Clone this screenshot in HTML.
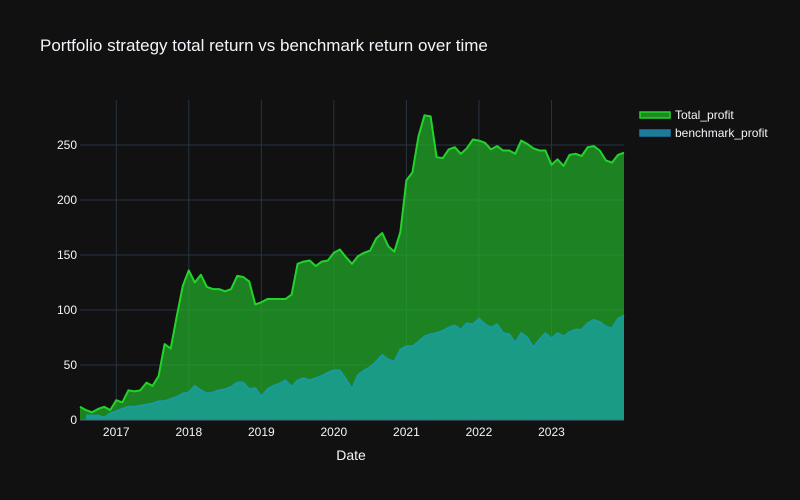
<!DOCTYPE html>
<html><head><meta charset="utf-8"><style>
html,body{margin:0;padding:0;background:#111111;}
svg{display:block;font-family:"Liberation Sans",sans-serif;}
</style></head><body>
<svg id="chart" width="800" height="500" viewBox="0 0 800 500">
<rect width="800" height="500" fill="#111111"/>
<text x="40" y="51" fill="#f2f5fa" font-size="17">Portfolio strategy total return vs benchmark return over time</text>
<g id="grid"></g>
<g id="areas"></g>
<g id="axes"></g>
<text x="351" y="460" fill="#f2f5fa" font-size="14" text-anchor="middle">Date</text>
<g>
<g>
<rect x="640" y="112" width="30" height="6" fill="#1f8a24" stroke="#22d42a" stroke-width="1.5"/>
<text x="675" y="119" fill="#f2f5fa" font-size="12">Total_profit</text></g>
<g>
<rect x="640" y="130" width="30" height="6" fill="#1a7e8e" stroke="#1f77b4" stroke-width="1.5"/>
<text x="675" y="137" fill="#f2f5fa" font-size="12">benchmark_profit</text></g>
</g>
</svg>
<script>
const startYear = 2016.5;
const monthStep = 1/12;
const totalProfit = [12,9,7,10,12,9,18,16,27,26,27,34,31,40,69,65,94,122,136,125,132,121,119,119,117,119,131,130,126,105,107,110,110,110,110,114,142,144,145,140,144,145,152,155,148,142,149,152,154,165,170,158,153,171,218,225,258,277,276,239,238,246,248,242,247,255,254,252,246,249,245,245,242,254,251,247,245,245,232,237,231,241,242,240,248,249,245,236,234,241,243];
const benchmarkProfit = [null,4,4,4,2,6,8,10,12,12,13,14,15,17,17,19,21,24,25,31,27,24,25,27,28,30,34,34,28,29,21,28,31,33,36,30,36,38,36,38,40,43,45,45,37,28,41,45,48,53,59,55,53,64,67,67,71,76,78,79,81,84,86,82,88,87,92,87,84,87,79,78,70,79,75,66,73,79,74,79,76,80,82,82,88,91,89,85,83,92,95];
const yTicks = [0,50,100,150,200,250];
const xTicks = [2017,2018,2019,2020,2021,2022,2023];

const NS="http://www.w3.org/2000/svg";
const X0=80,X1=624,Y0=420,YTOP=100;
const xMin=startYear, xMax=startYear+(totalProfit.length-1)*monthStep;
const xs=v=>X0+(v-xMin)/(xMax-xMin)*(X1-X0);
const ys=v=>Y0-v*1.1;
function mk(tag,attrs,parent){const e=document.createElementNS(NS,tag);for(const k in attrs)e.setAttribute(k,attrs[k]);parent.appendChild(e);return e;}
const grid=document.getElementById('grid'),areas=document.getElementById('areas'),axes=document.getElementById('axes');
yTicks.forEach(t=>{
 if(t>0){const l=mk('line',{x1:X0,x2:X1,y1:ys(t),y2:ys(t),stroke:'#283442','stroke-width':1},grid);
 
 }
 const tx=mk('text',{x:X0-3,y:ys(t)+4,fill:'#f2f5fa','font-size':12,'text-anchor':'end'},axes);
 tx.textContent=t;
 
 
});
xTicks.forEach(t=>{
 const l=mk('line',{x1:xs(t),x2:xs(t),y1:YTOP,y2:Y0,stroke:'#283442','stroke-width':1},grid);
 
 
 const tx=mk('text',{x:xs(t),y:Y0+16,fill:'#f2f5fa','font-size':12,'text-anchor':'middle'},axes);
 tx.textContent=t;
 
 
});
function series(vals,fill,stroke,name){
 const pts=[];vals.forEach((v,i)=>{if(v!==null)pts.push([xs(startYear+i*monthStep),ys(v)]);});
 const line=pts.map((p,i)=>(i?'L':'M')+p[0].toFixed(1)+','+p[1].toFixed(1)).join('');
 const area=line+'L'+pts[pts.length-1][0].toFixed(1)+','+Y0+'L'+pts[0][0].toFixed(1)+','+Y0+'Z';
 const a=mk('path',{d:area,fill:fill},areas);
 
 
 const l=mk('path',{d:line,fill:'none',stroke:stroke,'stroke-width':2,'stroke-linejoin':'round'},areas);
 
 
}
series(totalProfit,'rgba(34,170,40,0.75)','#22d42a','total-profit');
series(benchmarkProfit,'rgba(25,160,150,0.85)','#1a9aa0','benchmark-profit');
const zl=mk('line',{x1:X0,x2:X1,y1:Y0,y2:Y0,stroke:'#506784','stroke-width':1},axes);


</script>
</body></html>
